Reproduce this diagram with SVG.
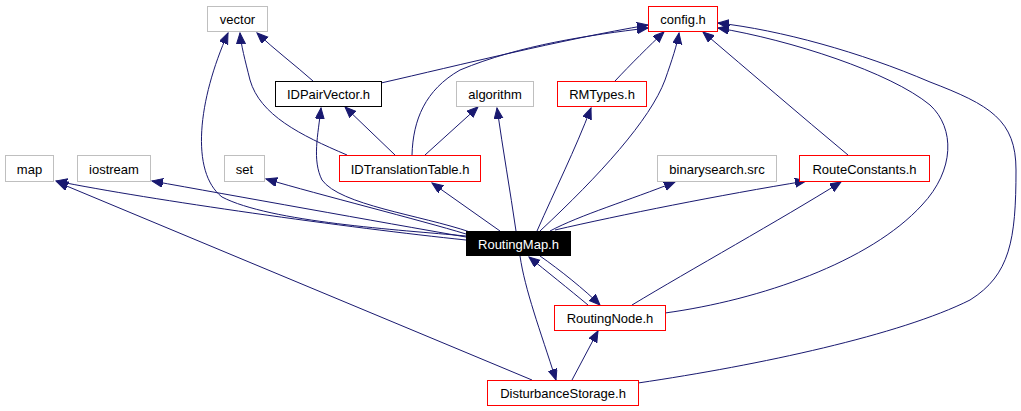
<svg xmlns="http://www.w3.org/2000/svg" width="1021" height="411" viewBox="0 0 1021 411">
<style>
.n rect{fill:#fff;stroke-width:1}
.g rect{stroke:#bfbfbf}
.r rect{stroke:#ff0000}
.b rect{stroke:#000}
.n text{font-family:"Liberation Sans",Arial,sans-serif;font-size:13px;fill:#000;text-anchor:middle}
#RoutingMap rect{fill:#000;stroke:#000}
#RoutingMap text{fill:#fff}
#edges path{fill:none;stroke:#191970;stroke-width:1;marker-end:url(#ah)}
</style>
<defs>
<marker id="ah" markerUnits="userSpaceOnUse" markerWidth="12" markerHeight="10" refX="11" refY="4.5" orient="auto">
<path d="M0,0 L11,4.5 L0,9 z" fill="#191970" stroke="#191970" stroke-width="1"/>
</marker>
</defs>
<rect width="1021" height="411" fill="#fff"/>
<g id="edges">
<path d="M466,236 C 400,230 270,222 222,197 C 190,172 198,100 228,33"/>
<path d="M470,232 C 420,215 340,205 322,180 C 312,160 318,135 321,108"/>
<path d="M540,231 C 600,175 650,120 665,80 C 672,60 677,45 679,33"/>
<path d="M516,231 C 510,190 503,150 497,108"/>
<path d="M537,231 C 555,190 575,150 591,108"/>
<path d="M466,240 C 350,228 150,200 56,181"/>
<path d="M466,237 C 380,222 230,195 152,181"/>
<path d="M466,234 C 420,220 320,195 266,179"/>
<path d="M500,231 L 432,183"/>
<path d="M550,231 C 580,215 630,200 675,182"/>
<path d="M555,230 C 620,215 720,195 806,181"/>
<path d="M540,256 C 560,270 585,290 600,305"/>
<path d="M520,256 C 525,290 540,330 556,380"/>
<path d="M588,305 C 570,290 545,270 529,257"/>
<path d="M632,305 C 690,270 780,220 841,182"/>
<path d="M665,313 C 760,300 870,262 922,205 C 955,170 955,128 930,105 C 890,72 790,40 718,28"/>
<path d="M532,380 L 57,182"/>
<path d="M572,380 L 598,331"/>
<path d="M638,383 C 760,365 900,335 970,300 C 1010,275 1016,240 1016,170 C 1016,120 990,105 930,82 C 860,52 780,30 718,23"/>
<path d="M313,81 C 295,65 275,50 257,33"/>
<path d="M381,83 C 460,65 560,40 648,25"/>
<path d="M347,155 C 300,135 260,115 250,80 C 245,60 241,45 240,33"/>
<path d="M395,155 L 345,107"/>
<path d="M425,155 L 478,107"/>
<path d="M412,155 C 413,120 425,90 460,70 C 520,45 590,35 648,28"/>
<path d="M615,81 C 630,65 650,45 664,32"/>
<path d="M848,155 C 800,115 750,72 703,32"/>
</g>
<g id="vector" class="n g"><rect x="207.5" y="6.5" width="60" height="25"/><text x="237.5" y="24">vector</text></g>
<g id="config" class="n r"><rect x="648.5" y="6.5" width="69" height="25"/><text x="683" y="24">config.h</text></g>
<g id="IDPairVector" class="n b"><rect x="275.5" y="81.5" width="106" height="25"/><text x="328.5" y="99">IDPairVector.h</text></g>
<g id="algorithm" class="n g"><rect x="456.5" y="81.5" width="77" height="25"/><text x="495" y="99">algorithm</text></g>
<g id="RMTypes" class="n r"><rect x="557.5" y="81.5" width="89" height="25"/><text x="602" y="99">RMTypes.h</text></g>
<g id="map" class="n g"><rect x="5.5" y="155.5" width="48" height="26"/><text x="29.5" y="173.5">map</text></g>
<g id="iostream" class="n g"><rect x="77.5" y="155.5" width="73" height="26"/><text x="114" y="173.5">iostream</text></g>
<g id="set" class="n g"><rect x="224.5" y="155.5" width="40" height="26"/><text x="244.5" y="173.5">set</text></g>
<g id="IDTranslationTable" class="n r"><rect x="339.5" y="155.5" width="141" height="26"/><text x="410" y="173.5">IDTranslationTable.h</text></g>
<g id="binarysearch" class="n g"><rect x="657.5" y="155.5" width="119" height="26"/><text x="717" y="173.5">binarysearch.src</text></g>
<g id="RouteConstants" class="n r"><rect x="799.5" y="155.5" width="130" height="26"/><text x="864.5" y="173.5">RouteConstants.h</text></g>
<g id="RoutingMap" class="n"><rect x="466.5" y="231.5" width="104" height="24"/><text x="518.5" y="248.5">RoutingMap.h</text></g>
<g id="RoutingNode" class="n r"><rect x="554.5" y="305.5" width="111" height="25"/><text x="610" y="323">RoutingNode.h</text></g>
<g id="DisturbanceStorage" class="n r"><rect x="487.5" y="380.5" width="151" height="25"/><text x="563" y="398">DisturbanceStorage.h</text></g>
</svg>
